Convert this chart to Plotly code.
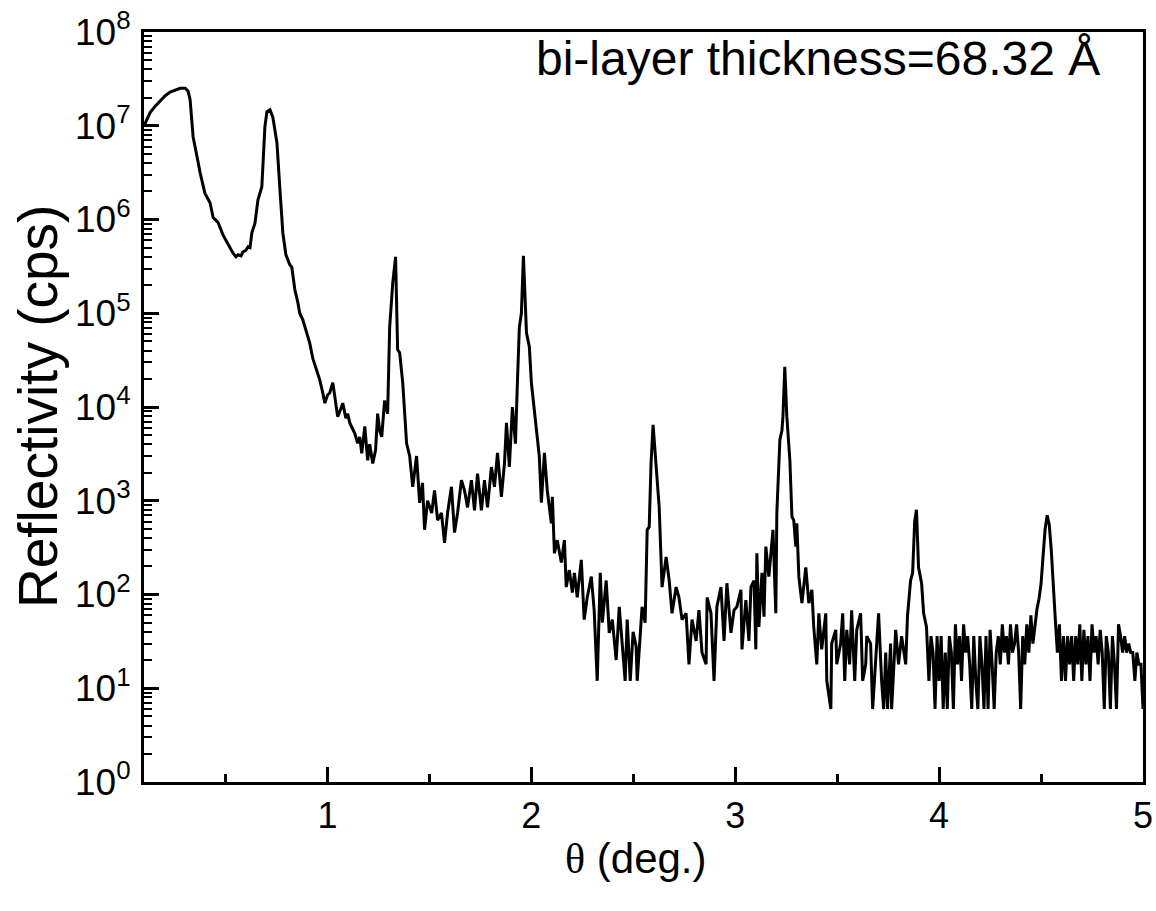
import plotly.graph_objects as go

# X-ray reflectivity scan, theta in degrees, intensity in counts per second
THETA = [
    0.100, 0.116, 0.130, 0.155, 0.179, 0.204, 0.228, 0.253, 0.277, 0.302,
    0.316, 0.326, 0.341, 0.360, 0.375, 0.399, 0.424, 0.439, 0.463, 0.488,
    0.512, 0.536, 0.551, 0.561, 0.576, 0.585, 0.600, 0.610, 0.620, 0.629,
    0.644, 0.659, 0.678, 0.693, 0.703, 0.718, 0.732, 0.752, 0.767, 0.781,
    0.796, 0.806, 0.815, 0.825, 0.840, 0.855, 0.864, 0.879, 0.889, 0.904,
    0.913, 0.928, 0.938, 0.953, 0.962, 0.977, 0.987, 1.001, 1.011, 1.026,
    1.041, 1.050, 1.065, 1.075, 1.090, 1.099, 1.109, 1.119, 1.134, 1.148,
    1.158, 1.168, 1.183, 1.197, 1.207, 1.222, 1.236, 1.246, 1.256, 1.266,
    1.280, 1.295, 1.305, 1.320, 1.334, 1.344, 1.354, 1.369, 1.378, 1.388,
    1.403, 1.418, 1.437, 1.452, 1.466, 1.476, 1.491, 1.511, 1.525, 1.540,
    1.559, 1.574, 1.589, 1.608, 1.623, 1.638, 1.657, 1.672, 1.687, 1.706,
    1.721, 1.736, 1.755, 1.770, 1.785, 1.804, 1.819, 1.834, 1.853, 1.868,
    1.878, 1.892, 1.907, 1.922, 1.932, 1.941, 1.951, 1.961, 1.976, 1.990,
    2.000, 2.015, 2.029, 2.039, 2.049, 2.064, 2.078, 2.098, 2.103, 2.113,
    2.127, 2.147, 2.162, 2.171, 2.186, 2.201, 2.211, 2.225, 2.245, 2.259,
    2.274, 2.294, 2.308, 2.323, 2.338, 2.348, 2.367, 2.382, 2.397, 2.416,
    2.431, 2.446, 2.460, 2.470, 2.485, 2.499, 2.514, 2.519, 2.529, 2.543,
    2.558, 2.568, 2.578, 2.587, 2.597, 2.612, 2.627, 2.641, 2.661, 2.676,
    2.690, 2.710, 2.724, 2.739, 2.759, 2.773, 2.788, 2.808, 2.822, 2.837,
    2.857, 2.862, 2.881, 2.896, 2.910, 2.930, 2.945, 2.959, 2.979, 2.994,
    3.008, 3.028, 3.033, 3.052, 3.067, 3.077, 3.092, 3.101, 3.106, 3.116,
    3.131, 3.141, 3.150, 3.165, 3.175, 3.185, 3.199, 3.204, 3.219, 3.229,
    3.234, 3.243, 3.253, 3.263, 3.268, 3.278, 3.287, 3.297, 3.302, 3.312,
    3.327, 3.346, 3.361, 3.376, 3.385, 3.400, 3.410, 3.424, 3.444, 3.449,
    3.469, 3.473, 3.493, 3.498, 3.517, 3.527, 3.537, 3.547, 3.561, 3.571,
    3.586, 3.596, 3.615, 3.625, 3.640, 3.645, 3.664, 3.674, 3.689, 3.703,
    3.718, 3.728, 3.738, 3.747, 3.762, 3.767, 3.787, 3.801, 3.816, 3.836,
    3.845, 3.860, 3.870, 3.880, 3.889, 3.899, 3.914, 3.924, 3.938,
    3.95, 3.96, 3.97, 3.98, 3.99, 4.00, 4.01, 4.02, 4.03, 4.04,
    4.05, 4.06, 4.07, 4.08, 4.09, 4.10, 4.11, 4.12, 4.13, 4.14,
    4.15, 4.16, 4.17, 4.18, 4.19, 4.20, 4.21, 4.22, 4.23, 4.24,
    4.25, 4.26, 4.27, 4.28, 4.29, 4.30, 4.31, 4.32, 4.33, 4.34,
    4.35, 4.36, 4.37, 4.38, 4.39, 4.40, 4.41, 4.42, 4.43, 4.44,
    4.45, 4.46, 4.47, 4.48, 4.49, 4.50, 4.51, 4.52, 4.53, 4.54,
    4.55, 4.56, 4.57, 4.58, 4.59, 4.60, 4.61, 4.62, 4.63, 4.64,
    4.65, 4.66, 4.67, 4.68, 4.69, 4.70, 4.71, 4.72, 4.73, 4.74,
    4.75, 4.76, 4.77, 4.78, 4.79, 4.80, 4.81, 4.82, 4.83, 4.84,
    4.85, 4.86, 4.87, 4.88, 4.89, 4.90, 4.91, 4.92, 4.93, 4.94,
    4.95, 4.96, 4.97, 4.98, 4.99, 5.00,
]

CPS = [
    1.0e7, 1.17e7, 1.38e7, 1.62e7, 1.86e7, 2.09e7, 2.29e7, 2.40e7, 2.51e7, 2.51e7,
    2.34e7, 1.91e7, 7.6e6, 4.7e6, 3.16e6, 1.9e6, 1.51e6, 1.05e6, 9.3e5, 6.8e5,
    5.4e5, 4.4e5, 4.0e5, 4.2e5, 4.1e5, 4.5e5, 4.7e5, 5.1e5, 5.0e5, 7.2e5,
    9.1e5, 1.62e6, 2.24e6, 9.8e6, 1.41e7, 1.48e7, 1.23e7, 6.6e6, 2.04e6, 7.2e5,
    4.2e5, 3.7e5, 3.3e5, 3.1e5, 1.78e5, 1.29e5, 1.0e5, 8.5e4, 7.1e4, 5.8e4,
    4.8e4, 3.3e4, 2.8e4, 2.24e4, 1.95e4, 1.41e4, 1.10e4, 1.35e4, 1.41e4, 1.82e4,
    1.12e4, 7900, 9500, 11000, 7600, 8500, 6800, 6200, 5200, 4100,
    4800, 3200, 6200, 2700, 4000, 2500, 3500, 8500, 5600, 4800,
    11700, 8500, 71000, 2.1e5, 4.0e5, 4.1e4, 3.8e4, 1.82e4, 7900, 4100,
    3000, 1410, 3000, 950, 1550, 490, 1000, 740, 1290, 620,
    740, 355, 740, 1410, 457, 740, 1660, 1290, 850, 1660,
    790, 1950, 790, 1660, 850, 2290, 1410, 3240, 1100, 2510,
    6760, 2290, 10000, 4070, 19500, 70800, 1.0e5, 4.1e5, 6.2e4, 4.4e4,
    1.82e4, 8500, 4470, 2950, 955, 3240, 1290, 575, 1100, 275,
    380, 219, 380, 120, 182, 105, 170, 93, 234, 54,
    93, 155, 68, 12, 170, 50, 141, 39, 54, 20,
    74, 32, 12, 54, 12, 40, 28, 12, 28, 74,
    50, 490, 525, 2510, 6460, 2140, 850, 120, 251, 141,
    63, 120, 93, 54, 63, 18, 54, 32, 68, 24,
    18, 93, 63, 12, 74, 120, 32, 132, 39, 68,
    74, 112, 26, 87, 32, 120, 141, 26, 275, 45,
    170, 58, 324, 155, 295, 490, 63, 741, 4470, 5620,
    7940, 26900, 7940, 3720, 2690, 676, 617, 324, 575, 155,
    81, 195, 81, 112, 45, 18, 63, 26, 63, 12,
    6, 30, 42, 18, 30, 63, 12, 42, 18, 68,
    12, 42, 63, 12, 18, 36, 30, 6, 18, 63,
    12, 6, 24, 6, 30, 6, 42, 18, 36, 18,
    60, 141, 170, 600, 800, 195, 132, 63, 45,
    12, 36, 24, 6, 36, 12, 36, 6, 24, 6,
    36, 24, 6, 48, 18, 36, 12, 48, 24, 36,
    18, 6, 36, 12, 6, 36, 18, 6, 36, 6,
    42, 18, 6, 24, 36, 18, 48, 24, 36, 18,
    48, 24, 30, 48, 24, 6, 36, 18, 48, 24,
    60, 30, 48, 70, 90, 130, 260, 500, 700, 560,
    300, 110, 54, 24, 48, 12, 36, 12, 36, 18,
    36, 12, 36, 18, 48, 12, 42, 18, 36, 12,
    48, 24, 36, 18, 42, 24, 6, 36, 24, 6,
    36, 18, 6, 48, 36, 24, 36, 24, 30, 24,
    24, 12, 24, 18, 18, 6,
]

X_TICKS = [1, 2, 3, 4, 5]
X_MINOR = [0.5, 1.5, 2.5, 3.5, 4.5]
Y_EXP = list(range(0, 9))

fig = go.Figure()
fig.add_trace(go.Scatter(x=THETA, y=CPS, mode="lines",
                         line=dict(color="black", width=3)))

fig.update_layout(
    width=1156, height=911,
    margin=dict(l=144, r=13, t=32, b=129),
    plot_bgcolor="white", paper_bgcolor="white",
    showlegend=False,
    font=dict(family="Liberation Sans, Arial, sans-serif", color="black"),
)

fig.update_xaxes(
    range=[0.1, 5], tickvals=X_TICKS, automargin=False,
    ticks="inside", ticklen=15, tickwidth=2.5, tickcolor="black",
    showline=True, linewidth=3, linecolor="black", mirror=True,
    showgrid=False, zeroline=False,
    tickfont=dict(size=36), ticklabelstandoff=0,
    minor=dict(tickvals=X_MINOR, ticks="inside", ticklen=8,
               tickwidth=2.5, tickcolor="black"),
)

fig.update_yaxes(
    type="log", range=[0, 8], automargin=False,
    tickvals=[10 ** e for e in Y_EXP],
    ticktext=[f"10<sup>{e}</sup>" for e in Y_EXP],
    ticks="inside", ticklen=15, tickwidth=2.5, tickcolor="black",
    showline=True, linewidth=3, linecolor="black", mirror=True,
    showgrid=False, zeroline=False,
    tickfont=dict(size=37), ticklabelstandoff=3,
    minor=dict(tickvals=[m * 10 ** e for e in Y_EXP[:-1] for m in range(2, 10)],
               ticks="inside", ticklen=8, tickwidth=2, tickcolor="black"),
)

# axis titles and the note, placed as annotations
fig.add_annotation(
    text='<span style="font-family:Liberation Serif">θ</span> (deg.)',
    xref="paper", yref="paper", x=0.5, y=0, yshift=-76, xshift=-8,
    xanchor="center", yanchor="middle", showarrow=False,
    font=dict(size=42),
)
fig.add_annotation(
    text="Reflectivity (cps)", textangle=-90,
    xref="paper", yref="paper", x=0, y=0.5, xshift=-106,
    xanchor="center", yanchor="middle", showarrow=False,
    font=dict(size=55),
)
fig.add_annotation(
    text="bi-layer thickness=68.32 Å",
    xref="paper", yref="paper", x=0.959, y=0.965,
    xanchor="right", yanchor="middle", showarrow=False,
    font=dict(size=48),
)

# drop the default page margin so the figure sits at the window corner
fig.write_html("out.html", config={"displayModeBar": False},
               post_script="document.body.style.margin='0px';")
